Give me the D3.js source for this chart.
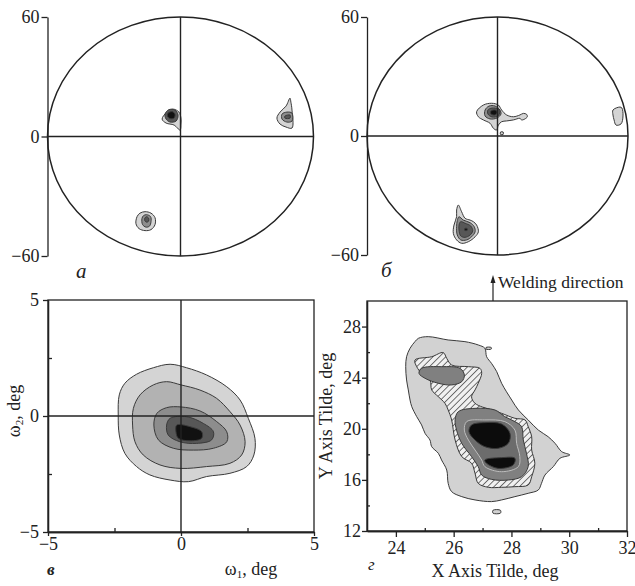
<!DOCTYPE html>
<html>
<head>
<meta charset="utf-8">
<script src="https://cdn.jsdelivr.net/npm/d3@7"></script>
<style>
  body { margin: 0; background: #fff; }
  svg text { font-family: "Liberation Serif", "Times New Roman", serif; fill: #222; }
</style>
</head>
<body>
<svg id="chart" width="635" height="586"></svg>
<script>
// *** data ***

// pole figures (а, б): tick values on the vertical axis
var poleTicks = [-60, 0, 60];

// contour patches of panel а, [x, y] in degrees, level 1 = lightest
var contoursA = [
    {level: 1, points: [[-8.3, 8.75], [-6.1, 12.25], [-3.4, 13.75], [-0.7, 12.25], [0.2, 9.25], [0.2, 6.25], [-0.2, 3.25], [-2.9, 5.75], [-6.5, 6.75]]},
    {level: 4, points: [[-7.0, 11.25], [-5.2, 13.5], [-2.5, 13.25], [-1.1, 10.75], [-2.0, 7.75], [-4.7, 7.25], [-6.5, 8.75]]},
    {level: 5, points: [[-5.6, 11.75], [-3.8, 12.5], [-2.5, 11.25], [-2.9, 9.25], [-4.7, 9.0], [-5.9, 10.25]]},
    {level: 1, points: [[49.4, 19.25], [47.6, 15.25], [44.9, 12.25], [43.5, 9.25], [44.9, 6.25], [47.6, 4.75], [50.3, 4.25], [50.3, 13.25], [49.8, 17.25]]},
    {level: 3, points: [[45.8, 11.25], [48.0, 12.25], [50.3, 11.75], [50.3, 7.75], [48.0, 7.25], [45.8, 8.75]]},
    {level: 4, points: [[47.1, 10.25], [49.4, 10.75], [49.4, 9.25], [47.1, 9.25]]},
    {level: 1, points: [[-16.0, -37.75], [-13.3, -38.5], [-11.5, -40.75], [-11.5, -44.25], [-13.3, -46.75], [-16.0, -47.25], [-18.7, -46.25], [-20.1, -43.75], [-19.6, -40.25], [-18.3, -38.5]]},
    {level: 3, points: [[-15.3, -39.25], [-13.5, -40.25], [-13.3, -42.75], [-14.0, -45.0], [-15.6, -45.5], [-17.1, -44.25], [-17.4, -41.25], [-16.7, -39.75]]},
    {level: 4, points: [[-15.3, -40.25], [-14.4, -41.0], [-14.4, -42.5], [-15.3, -43.0], [-16.1, -42.25], [-16.1, -41.0]]}
];

// contour patches of panel б
var contoursB = [
    {level: 1, points: [[-9.6, 12.25], [-6.5, 15.6], [-2.7, 16.5], [0.4, 15.6], [1.9, 13.1], [4.2, 10.6], [7.3, 9.7], [10.3, 10.6], [11.9, 11.4], [13.4, 10.9], [13.7, 9.7], [12.6, 8.6], [11.1, 8.1], [10.3, 8.9], [7.3, 8.1], [4.2, 7.6], [1.9, 7.2], [0.4, 5.5], [-0.4, 3.0], [-1.9, 3.9], [-3.4, 6.4], [-6.5, 8.1], [-8.8, 9.7]]},
    {level: 3, points: [[-5.7, 13.1], [-3.9, 15.1], [-1.1, 15.1], [1.1, 13.1], [1.6, 11.1], [-0.2, 9.1], [-3.4, 8.6], [-5.7, 10.1]]},
    {level: 4, points: [[-4.4, 13.1], [-2.5, 14.1], [0.2, 13.6], [1.1, 12.1], [0.2, 10.1], [-2.5, 9.6], [-4.4, 11.1]]},
    {level: 5, points: [[-3.0, 12.6], [-1.1, 13.1], [-0.2, 12.1], [-1.1, 10.6], [-3.0, 11.1]]},
    {level: 1, points: [[1.4, 2.0], [2.6, 2.0], [2.6, 0.8], [1.4, 0.8]]},
    {level: 1, points: [[53.1, 13.1], [56.3, 14.6], [57.2, 14.1], [57.7, 10.1], [56.8, 6.1], [54.5, 5.5], [53.6, 8.1], [53.1, 10.6]]},
    {level: 1, points: [[-18.0, -34.8], [-16.5, -38.2], [-14.9, -41.5], [-12.6, -42.4], [-11.1, -43.2], [-9.6, -44.9], [-8.8, -48.3], [-10.3, -50.8], [-13.4, -53.3], [-16.5, -54.1], [-18.8, -52.4], [-20.3, -49.1], [-20.0, -44.9], [-18.8, -40.7], [-18.8, -37.3]]},
    {level: 3, points: [[-17.7, -40.7], [-15.7, -42.4], [-12.6, -43.7], [-10.7, -45.7], [-10.3, -48.3], [-11.9, -50.8], [-14.2, -52.4], [-16.9, -52.4], [-18.5, -49.9], [-18.8, -45.7], [-18.5, -42.7]]},
    {level: 4, points: [[-16.9, -43.2], [-14.9, -44.0], [-12.3, -45.4], [-11.4, -47.8], [-12.6, -49.9], [-14.9, -51.1], [-16.9, -50.4], [-17.7, -47.4], [-17.6, -44.4]]},
    {level: 5, points: [[-15.0, -46.6], [-14.0, -46.6], [-14.0, -47.6], [-15.0, -47.6]]}
];

// panel в: misorientation map, omega1 / omega2 in degrees
var omegaTicks = [-5, 0, 5];
var omegaMinorTicks = [-2.5, 2.5];
var contoursC = [
    {level: 1, points: [[-0.41, 2.23], [0.21, 2.08], [0.96, 1.77], [1.72, 1.26], [2.22, 0.69], [2.53, -0.10], [2.78, -0.96], [2.74, -1.68], [2.47, -2.18], [1.84, -2.47], [0.96, -2.61], [0.28, -2.83], [-0.41, -2.76], [-1.17, -2.54], [-1.67, -2.18], [-2.11, -1.61], [-2.32, -0.82], [-2.36, 0.04], [-2.32, 0.91], [-2.11, 1.41], [-1.67, 1.80], [-1.04, 2.08]]},
    {level: 2, points: [[-0.54, 1.48], [0, 1.34], [0.71, 1.12], [1.34, 0.76], [1.84, 0.19], [2.22, -0.39], [2.41, -1.11], [2.28, -1.68], [1.84, -2.04], [0.96, -2.18], [0, -2.26], [-0.79, -2.11], [-1.42, -1.68], [-1.73, -1.11], [-1.82, -0.39], [-1.79, 0.33], [-1.54, 0.91], [-1.04, 1.34]]},
    {level: 3, points: [[-0.54, 0.36], [0, 0.39], [0.71, 0.22], [1.34, -0.24], [1.72, -0.68], [1.72, -1.11], [1.22, -1.39], [0.46, -1.47], [-0.29, -1.39], [-0.85, -1.03], [-1.02, -0.39], [-0.91, 0.11]]},
    {level: 4, points: [[-0.41, -0.10], [0.21, -0.03], [0.84, -0.32], [1.22, -0.68], [1.15, -1.03], [0.59, -1.18], [-0.04, -1.11], [-0.48, -0.82], [-0.54, -0.39]]},
    {level: 5, points: [[-0.16, -0.39], [0.34, -0.46], [0.78, -0.68], [0.78, -0.96], [0.34, -1.07], [-0.10, -0.96], [-0.19, -0.68]]}
];

// panel г: X / Y axis tilde in degrees
var tiltXTicks = [24, 26, 28, 30, 32];
var tiltXMinor = [25, 27, 29, 31];
var tiltYTicks = [12, 16, 20, 24, 28];
var tiltYMinor = [14, 18, 22, 26];
var contoursD = [
    {level: 1, points: [[24.78, 27.08], [25.12, 27.21], [25.81, 26.95], [26.39, 26.82], [26.85, 26.56], [27.08, 26.30], [27.14, 25.64], [27.31, 25.12], [27.49, 24.47], [27.66, 23.56], [28.01, 22.25], [28.24, 21.47], [28.58, 20.69], [28.93, 19.90], [29.27, 19.38], [29.51, 18.86], [29.74, 18.21], [30.02, 17.95], [29.68, 17.69], [29.45, 17.04], [29.16, 16.38], [29.04, 15.73], [28.93, 15.21], [28.58, 14.95], [28.12, 14.69], [27.66, 14.43], [27.31, 14.30], [26.74, 14.43], [26.28, 14.69], [25.93, 15.08], [25.81, 15.73], [25.76, 16.77], [25.58, 17.56], [25.47, 18.08], [25.24, 18.60], [25.18, 19.12], [25.01, 19.64], [24.89, 20.30], [24.72, 20.95], [24.55, 21.73], [24.49, 22.25], [24.43, 23.04], [24.37, 23.82], [24.34, 24.86], [24.37, 25.64], [24.49, 26.30], [24.66, 26.82]]},
    {level: 2, points: [[24.66, 25.38], [25.24, 25.64], [25.64, 25.96], [25.76, 25.51], [25.93, 24.99], [26.51, 24.86], [26.91, 24.73], [26.97, 24.34], [26.85, 23.56], [26.74, 23.04], [26.62, 22.51], [26.74, 21.99], [27.31, 21.47], [27.66, 21.21], [28.12, 20.82], [28.47, 20.69], [28.58, 20.17], [28.70, 19.38], [28.70, 18.34], [28.81, 17.30], [28.70, 16.25], [28.58, 15.60], [28.12, 15.47], [27.66, 15.42], [27.20, 15.42], [26.85, 15.73], [26.74, 16.51], [26.62, 17.30], [26.28, 17.82], [26.05, 19.12], [25.93, 20.69], [25.81, 21.47], [25.70, 21.99], [25.47, 22.51], [25.24, 23.04], [25.18, 23.82], [24.89, 24.34], [24.72, 24.86]]},
    {level: 3, points: [[24.89, 24.73], [25.58, 24.86], [26.22, 24.73], [26.37, 24.21], [26.28, 23.69], [25.93, 23.43], [25.47, 23.56], [25.01, 23.95], [24.80, 24.34]]},
    {level: 3, points: [[26.16, 21.34], [26.74, 21.60], [27.43, 21.47], [27.77, 20.95], [28.12, 20.56], [28.35, 20.17], [28.41, 19.12], [28.52, 18.08], [28.58, 17.04], [28.35, 16.25], [27.89, 15.99], [27.31, 16.04], [26.97, 16.38], [26.85, 17.04], [26.62, 17.82], [26.28, 18.86], [26.10, 19.90], [26.05, 20.69]]},
    {level: 4, points: [[26.45, 20.56], [27.08, 20.69], [27.77, 20.56], [28.12, 19.90], [28.18, 18.86], [28.29, 17.82], [28.24, 17.04], [27.66, 16.64], [27.08, 17.04], [26.97, 17.56], [26.74, 18.34], [26.51, 19.12], [26.37, 19.90]]},
    {level: 5, points: [[26.62, 20.30], [27.08, 20.48], [27.66, 20.37], [27.95, 19.64], [27.89, 18.86], [27.54, 18.47], [27.08, 18.60], [26.74, 19.12], [26.53, 19.77]]},
    {level: 5, points: [[27.08, 17.56], [27.66, 17.74], [28.12, 17.69], [28.06, 17.17], [27.54, 16.90], [27.14, 17.30]]},
    {level: 1, points: [[27.36, 13.62], [27.62, 13.62], [27.62, 13.40], [27.36, 13.40]]},
    {level: 1, points: [[27.12, 26.36], [27.30, 26.36], [27.30, 26.24], [27.12, 26.24]]}
];

// *** chart ***

var svg = d3.select("#chart");

var defs = svg.append("defs");
defs.append("pattern")
    .attr("id", "hatch")
    .attr("patternUnits", "userSpaceOnUse")
    .attr("width", 4.5)
    .attr("height", 4.5)
    .attr("patternTransform", "rotate(45)")
  .call(p => {
      p.append("rect").attr("width", 4.5).attr("height", 4.5).attr("fill", "#f0f0f0");
      p.append("line").attr("x1", 0).attr("y1", 0).attr("x2", 0).attr("y2", 4.5)
          .attr("stroke", "#3a3a3a").attr("stroke-width", 1.4);
  });

var grey = d3.scaleOrdinal()
    .domain([1, 2, 3, 4, 5])
    .range(["#d4d4d4", "#b2b2b2", "#8d8d8d", "#575757", "#111"]);

var tiltFill = d3.scaleOrdinal()
    .domain([1, 2, 3, 4, 5])
    .range(["#d2d2d2", "url(#hatch)", "#808080", "#6c6c6c", "#0c0c0c"]);

function draw_contours(g, contours, x, y, fill, stroke) {
    var lineMaker = d3.line()
        .x(d => x(d[0]))
        .y(d => y(d[1]))
        .curve(d3.curveCatmullRomClosed.alpha(0.5));
    g.selectAll(".contour")
        .data(contours).enter().append("path")
        .attr("class", "contour")
        .attr("d", d => lineMaker(d.points))
        .attr("fill", d => fill(d.level))
        .attr("stroke", d => (stroke ? stroke(d.level) : "#3a3a3a"))
        .attr("stroke-width", 1);
}

function style_axis(g, fontSize) {
    g.select(".domain").attr("stroke", "#222").attr("stroke-width", 1.3);
    g.selectAll(".tick line").attr("stroke", "#222").attr("stroke-width", 1.3);
    g.selectAll(".tick text")
        .attr("fill", "#222")
        .style("font-family", "'Liberation Serif', 'Times New Roman', serif")
        .style("font-size", fontSize + "px");
}

// pole figure panel (а, б)
function draw_pole_figure(xRange, yRange, contours, letter, letterPos) {
    var x = d3.scaleLinear().domain([-60, 60]).range(xRange);
    var y = d3.scaleLinear().domain([-60, 60]).range(yRange);
    var g = svg.append("g");

    draw_contours(g.append("g"), contours, x, y, grey);

    g.append("ellipse")
        .attr("cx", x(0)).attr("cy", y(0))
        .attr("rx", x(60) - x(0)).attr("ry", y(-60) - y(0))
        .attr("fill", "none").attr("stroke", "#222").attr("stroke-width", 1.5);
    g.append("line")
        .attr("x1", x(-60)).attr("x2", x(60)).attr("y1", y(0)).attr("y2", y(0))
        .attr("stroke", "#222").attr("stroke-width", 1.4);
    g.append("line")
        .attr("x1", x(0)).attr("x2", x(0)).attr("y1", y(60)).attr("y2", y(-60))
        .attr("stroke", "#222").attr("stroke-width", 1.4);

    var yAxisG = g.append("g")
        .attr("transform", "translate(" + x(-60) + ",0)")
        .call(d3.axisLeft(y).tickValues(poleTicks).tickSize(6).tickSizeOuter(0).tickPadding(2));
    style_axis(yAxisG, 18);

    g.append("text")
        .attr("x", letterPos[0]).attr("y", letterPos[1])
        .style("font-size", "21px").style("font-style", "italic")
        .text(letter);
}

draw_pole_figure([47.5, 313.5], [256, 17], contoursA, "а", [76, 278]);
draw_pole_figure([367, 628], [255, 17], contoursB, "б", [381, 277]);

// panel в
(function () {
    var x = d3.scaleLinear().domain([-5, 5]).range([48, 314]);
    var y = d3.scaleLinear().domain([-5, 5]).range([532, 300]);
    var g = svg.append("g");

    draw_contours(g.append("g"), contoursC, x, y, grey);

    g.append("rect")
        .attr("x", x(-5)).attr("y", y(5))
        .attr("width", x(5) - x(-5)).attr("height", y(-5) - y(5))
        .attr("fill", "none").attr("stroke", "#222").attr("stroke-width", 1.3);
    g.append("line")
        .attr("x1", x(-5)).attr("x2", x(5)).attr("y1", y(0)).attr("y2", y(0))
        .attr("stroke", "#222").attr("stroke-width", 1.4);
    g.append("line")
        .attr("x1", x(0)).attr("x2", x(0)).attr("y1", y(5)).attr("y2", y(-5))
        .attr("stroke", "#222").attr("stroke-width", 1.4);

    var yAxisG = g.append("g").attr("transform", "translate(" + x(-5) + ",0)")
        .call(d3.axisLeft(y).tickValues(omegaTicks).tickSize(5).tickSizeOuter(0).tickPadding(4));
    style_axis(yAxisG, 18);
    var yMinorG = g.append("g").attr("transform", "translate(" + x(-5) + ",0)")
        .call(d3.axisLeft(y).tickValues(omegaMinorTicks).tickSize(-4).tickSizeOuter(0).tickFormat(""));
    style_axis(yMinorG, 18);

    var xAxisG = g.append("g").attr("transform", "translate(0," + y(-5) + ")")
        .call(d3.axisBottom(x).tickValues(omegaTicks).tickSize(4).tickSizeOuter(0).tickPadding(1));
    style_axis(xAxisG, 18);
    var xMinorG = g.append("g").attr("transform", "translate(0," + y(-5) + ")")
        .call(d3.axisBottom(x).tickValues(omegaMinorTicks).tickSize(-4).tickSizeOuter(0).tickFormat(""));
    style_axis(xMinorG, 18);

    var yLabel = g.append("text")
        .attr("transform", "translate(20," + 411 + ") rotate(-90)")
        .attr("text-anchor", "middle")
        .style("font-size", "18px");
    yLabel.append("tspan").text("ω");
    yLabel.append("tspan").attr("dy", 3).style("font-size", "11px").text("2");
    yLabel.append("tspan").attr("dy", -3).text(", deg");

    var xLabel = g.append("text")
        .attr("x", 251).attr("y", 575)
        .attr("text-anchor", "middle")
        .style("font-size", "18px");
    xLabel.append("tspan").text("ω");
    xLabel.append("tspan").attr("dy", 3).style("font-size", "11px").text("1");
    xLabel.append("tspan").attr("dy", -3).text(", deg");

    g.append("text")
        .attr("x", 47).attr("y", 575)
        .style("font-size", "17px").style("font-style", "italic").style("font-weight", "bold")
        .text("в");
})();

// panel г
(function () {
    var x = d3.scaleLinear().domain([23, 32]).range([367, 627]);
    var y = d3.scaleLinear().domain([12, 30]).range([531, 301]);
    var g = svg.append("g");

    draw_contours(g.append("g"), contoursD, x, y, tiltFill,
        d3.scaleOrdinal().domain([1, 2, 3, 4, 5]).range(["#3a3a3a", "#3a3a3a", "#3a3a3a", "#bdbdbd", "#3a3a3a"]));

    g.append("rect")
        .attr("x", x(23)).attr("y", y(30))
        .attr("width", x(32) - x(23)).attr("height", y(12) - y(30))
        .attr("fill", "none").attr("stroke", "#222").attr("stroke-width", 1.3);

    var yAxisG = g.append("g").attr("transform", "translate(" + x(23) + ",0)")
        .call(d3.axisLeft(y).tickValues(tiltYTicks).tickSize(5).tickSizeOuter(0).tickPadding(1));
    style_axis(yAxisG, 18);
    var yMinorG = g.append("g").attr("transform", "translate(" + x(23) + ",0)")
        .call(d3.axisLeft(y).tickValues(tiltYMinor).tickSize(-3).tickSizeOuter(0).tickFormat(""));
    style_axis(yMinorG, 18);

    var xAxisG = g.append("g").attr("transform", "translate(0," + y(12) + ")")
        .call(d3.axisBottom(x).tickValues(tiltXTicks).tickSize(6).tickSizeOuter(0).tickPadding(4));
    style_axis(xAxisG, 18);
    var xMinorG = g.append("g").attr("transform", "translate(0," + y(12) + ")")
        .call(d3.axisBottom(x).tickValues(tiltXMinor).tickSize(-3).tickSizeOuter(0).tickFormat(""));
    style_axis(xMinorG, 18);

    g.append("text")
        .attr("transform", "translate(332," + 416 + ") rotate(-90)")
        .attr("text-anchor", "middle")
        .style("font-size", "18px")
        .text("Y Axis Tilde, deg");

    g.append("text")
        .attr("x", 495).attr("y", 577)
        .attr("text-anchor", "middle")
        .style("font-size", "18px")
        .text("X Axis Tilde, deg");

    g.append("text")
        .attr("x", 368).attr("y", 570)
        .style("font-size", "17px").style("font-style", "italic")
        .text("г");

    // welding direction arrow
    var arrowX = 493;
    g.append("line")
        .attr("x1", arrowX).attr("x2", arrowX).attr("y1", y(30)).attr("y2", 281)
        .attr("stroke", "#222").attr("stroke-width", 1.2);
    g.append("path")
        .attr("d", "M" + (arrowX - 2.5) + ",283 L" + arrowX + ",275 L" + (arrowX + 2.5) + ",283 Z")
        .attr("fill", "#222");
    g.append("text")
        .attr("x", 498).attr("y", 288)
        .style("font-size", "17.5px")
        .text("Welding direction");
})();
</script>
</body>
</html>
